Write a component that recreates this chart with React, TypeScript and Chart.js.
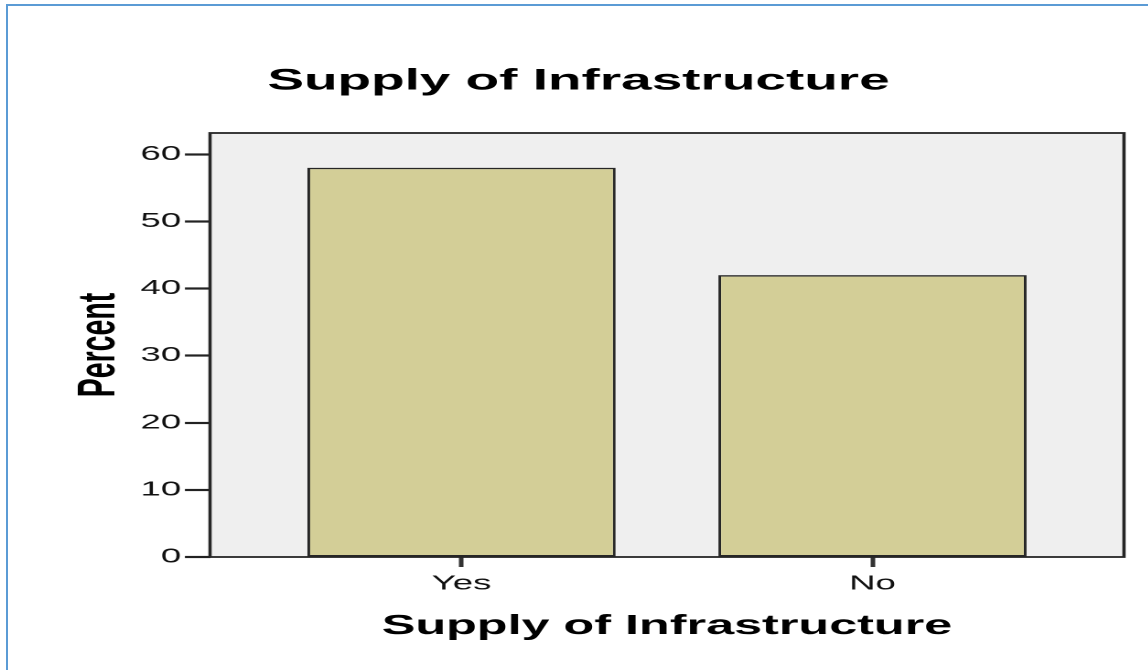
import React, { useEffect, useRef } from 'react';
import { Chart, registerables } from 'chart.js';

Chart.register(...registerables);

// ---- data ----
const chartTitle = 'Supply of Infrastructure';
const xAxisTitle = 'Supply of Infrastructure';
const yAxisTitle = 'Percent';
const categories = ['Yes', 'No'];
const percentValues = [58, 42];
const yTickValues = [0, 10, 20, 30, 40, 50, 60];
const yMin = 0;
const yMax = 63.17;
const xMin = -0.612;
const xMax = 1.612;

// ---- layout (the reference is stretched horizontally) ----
const S = 1.83;
const W = 1148 / S;
const H = 670;
const FONT = "'Liberation Sans', Arial, Helvetica, sans-serif";

const plotLeft = 210 / S;
const plotRight = 1124 / S;
const titleCenter = 578.5 / S;
const padL = 2 * titleCenter - plotRight;
const padR = W - plotRight;
const yTickLen = 13.7;
const yScaleWidth = plotLeft - padL;
const xScaleHeight = H - 557;

const framePlugin = {
  id: 'frame',
  beforeDraw(chart: any) {
    const { ctx, chartArea: a } = chart;
    ctx.save();
    ctx.fillStyle = '#efefef';
    ctx.fillRect(a.left, a.top, a.right - a.left, a.bottom - a.top);
    ctx.restore();
  },
  afterDatasetsDraw(chart: any) {
    const { ctx, chartArea: a } = chart;
    ctx.save();
    ctx.strokeStyle = '#262626';
    ctx.lineWidth = 1.8;
    ctx.strokeRect(a.left, a.top, a.right - a.left, a.bottom - a.top);
    ctx.restore();
  },
};

export default function App() {
  const ref = useRef<HTMLCanvasElement | null>(null);

  useEffect(() => {
    if (!ref.current) return;
    const chart = new Chart(ref.current, {
      type: 'bar',
      data: {
        datasets: [
          {
            label: yAxisTitle,
            data: categories.map((_, i) => ({ x: i, y: percentValues[i] })) as any,
            backgroundColor: '#d3ce97',
            borderColor: '#262626',
            borderWidth: 1.5,
            borderSkipped: false,
            barPercentage: 0.75,
            categoryPercentage: 1,
          },
        ],
      },
      options: {
        animation: false,
        responsive: true,
        maintainAspectRatio: false,
        devicePixelRatio: 2,
        layout: { padding: { left: padL, right: padR, top: 0, bottom: 0 } },
        plugins: {
          legend: { display: false },
          tooltip: { enabled: false },
          title: {
            display: true,
            text: chartTitle,
            color: '#000',
            font: { family: FONT, size: 30, weight: 'bold' },
            padding: { top: 63, bottom: 34 },
          },
        },
        scales: {
          x: {
            type: 'linear',
            min: xMin,
            max: xMax,
            offset: false,
            afterBuildTicks: (scale: any) => {
              scale.ticks = categories.map((_, i) => ({ value: i }));
            },
            afterFit: (scale: any) => {
              scale.height = xScaleHeight;
            },
            grid: {
              offset: false,
              drawOnChartArea: false,
              drawTicks: true,
              tickLength: 10,
              tickColor: '#333',
              tickWidth: 2.5,
            },
            border: { display: false },
            ticks: {
              autoSkip: false,
              maxRotation: 0,
              padding: 5,
              color: '#111',
              font: { family: FONT, size: 20 },
              callback: (v: any) => categories[Math.round(Number(v))] ?? '',
            },
            title: {
              display: true,
              text: xAxisTitle,
              color: '#000',
              font: { family: FONT, size: 27.5, weight: 'bold' },
              padding: { top: 0, bottom: 27 },
            },
          },
          y: {
            type: 'linear',
            min: yMin,
            max: yMax,
            afterBuildTicks: (scale: any) => {
              scale.ticks = yTickValues.map((v) => ({ value: v }));
            },
            afterFit: (scale: any) => {
              scale.width = yScaleWidth;
            },
            grid: {
              drawOnChartArea: false,
              drawTicks: true,
              tickLength: yTickLen,
              tickColor: '#222',
              tickWidth: 2.2,
            },
            border: { display: false },
            ticks: {
              padding: 2,
              color: '#111',
              font: { family: FONT, size: 20 },
            },
            title: {
              display: true,
              text: yAxisTitle,
              color: '#000',
              font: { family: FONT, size: 28.5, weight: 'bold' },
              padding: { top: 19.5, bottom: 0 },
            },
          },
        },
      },
      plugins: [framePlugin],
    });
    return () => chart.destroy();
  }, []);

  return (
    <div
      style={{
        position: 'fixed',
        left: 0,
        top: 0,
        width: 1148,
        height: 670,
        background: '#fff',
        overflow: 'hidden',
      }}
    >
      <div
        style={{
          position: 'absolute',
          left: 0,
          top: 0,
          width: W,
          height: H,
          transform: `scaleX(${S})`,
          transformOrigin: '0 0',
        }}
      >
        <canvas ref={ref} />
      </div>
      <div style={{ position: 'absolute', left: 6, top: 3.5, width: 1142, height: 2, background: '#5b9bd5' }} />
      <div style={{ position: 'absolute', left: 6, top: 3.5, width: 2, height: 667, background: '#5b9bd5' }} />
    </div>
  );
}
